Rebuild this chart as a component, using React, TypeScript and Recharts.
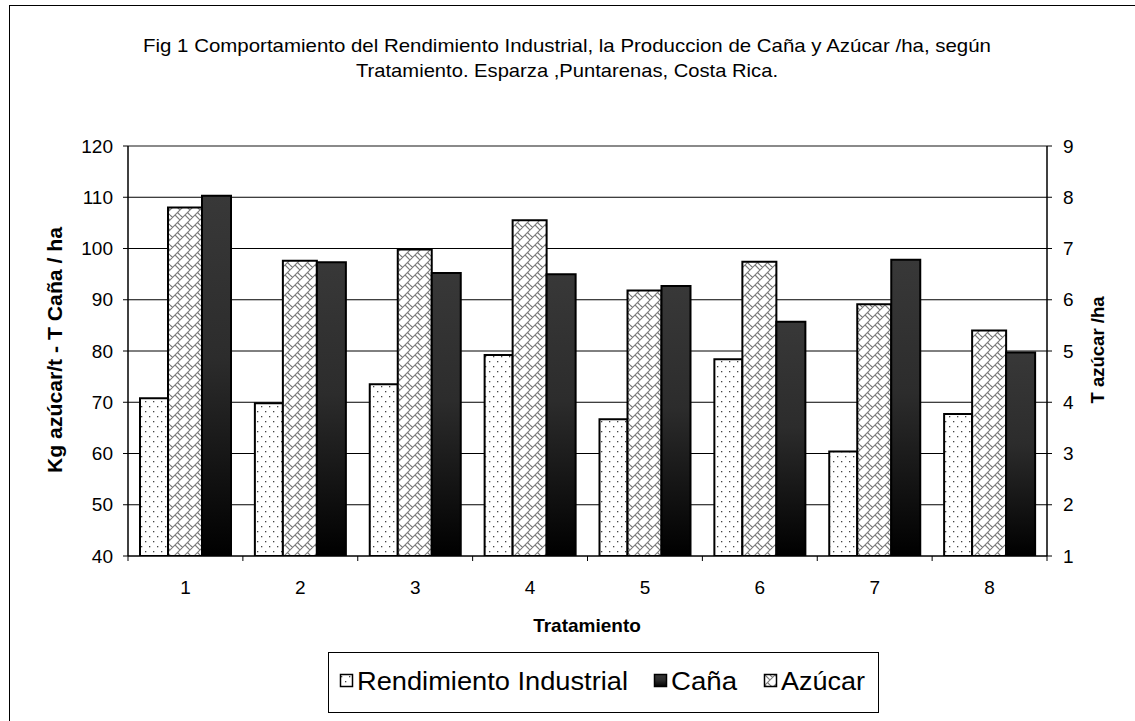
import React from 'react';
import { BarChart, Bar, XAxis, YAxis, CartesianGrid, ReferenceLine } from 'recharts';

const categories = ['1', '2', '3', '4', '5', '6', '7', '8'];
const rendimientoIndustrial = [70.8, 69.8, 73.5, 79.2, 66.7, 78.4, 60.4, 67.7];
const cana = [110.3, 97.3, 95.2, 95.0, 92.7, 85.7, 97.8, 79.7];
const azucar = [7.8, 6.76, 6.98, 7.55, 6.18, 6.74, 5.91, 5.4];
const leftTicks = [40, 50, 60, 70, 80, 90, 100, 110, 120];
const rightTicks = [1, 2, 3, 4, 5, 6, 7, 8, 9];
const seriesNames = { rend: 'Rendimiento Industrial', cana: 'Caña', azucar: 'Azúcar' };
const titleLines = [
  'Fig 1 Comportamiento del Rendimiento Industrial, la Produccion de Caña y Azúcar /ha, según',
  'Tratamiento. Esparza ,Puntarenas, Costa Rica.',
];
const leftAxisTitle = 'Kg azúcar/t - T Caña / ha';
const rightAxisTitle = 'T azúcar /ha';
const xAxisTitle = 'Tratamiento';

const W = 1135;
const H = 721;
const LEFT_AXIS_W = 128;
const RIGHT_AXIS_W = 88;
const PLOT_W = W - LEFT_AXIS_W - RIGHT_AXIS_W;
const FONT = '"Liberation Sans", Arial, sans-serif';

const data = categories.map((t, i) => ({
  t,
  rend: rendimientoIndustrial[i],
  cana: cana[i],
  azucar: azucar[i],
}));

function XTick(props: any) {
  const { x, y, payload, index } = props;
  const bw = PLOT_W / categories.length;
  const last = index === categories.length - 1;
  return (
    <g>
      <line x1={x - bw / 2} x2={x - bw / 2} y1={y - 5} y2={y} stroke="#000" />
      {last && <line x1={x + bw / 2} x2={x + bw / 2} y1={y - 5} y2={y} stroke="#000" />}
      <text x={x} y={y + 33} textAnchor="middle" fontFamily={FONT} fontSize={19} fill="#000">
        {payload.value}
      </text>
    </g>
  );
}

const tickStyle = { fontFamily: FONT, fontSize: 19, fill: '#000' };

function LegendItem({ x, fill, label, len }: { x: number; fill: string; label: string; len: number }) {
  return (
    <g>
      <rect x={x + 0.5} y={674.5} width={12} height={12} fill={fill} stroke="#000" strokeWidth={1.5} />
      <text
        x={x + 17}
        y={690}
        fontFamily={FONT}
        fontSize={26}
        fill="#000"
        textLength={len}
        lengthAdjust="spacingAndGlyphs"
      >
        {label}
      </text>
    </g>
  );
}

export default function App() {
  return (
    <div style={{ position: 'absolute', left: 0, top: 0, width: W, height: H, background: '#fff', overflow: 'hidden' }}>
      <svg width={0} height={0} style={{ position: 'absolute' }}>
        <defs>
          <pattern id="dotsPat" width="8" height="10" patternUnits="userSpaceOnUse">
            <rect width="8" height="10" fill="#fff" />
            <rect x="1" y="1" width="1.3" height="1.3" fill="#444" />
            <rect x="5" y="6" width="1.3" height="1.3" fill="#444" />
          </pattern>
          <pattern id="brickPat" width="10" height="10" patternUnits="userSpaceOnUse">
            <rect width="10" height="10" fill="#fff" />
            <path
              d="M0,10 L10,0 M-1,1 L1,-1 M9,11 L11,9 M5,5 L10,10 M0,5 L2.5,7.5 M7.5,2.5 L10,5"
              stroke="#7a7a7a"
              strokeWidth="1.1"
              fill="none"
            />
          </pattern>
          <linearGradient id="canaGrad" x1="0" y1="0" x2="0" y2="1">
            <stop offset="0%" stopColor="#383838" />
            <stop offset="45%" stopColor="#2c2c2c" />
            <stop offset="100%" stopColor="#000" />
          </linearGradient>
        </defs>
      </svg>

      <BarChart
        width={W}
        height={H}
        data={data}
        margin={{ top: 146, right: 0, bottom: 135, left: 0 }}
        barGap={0}
      >
        <CartesianGrid yAxisId="left" vertical={false} stroke="#000" strokeWidth={1} />
        <XAxis
          dataKey="t"
          height={30}
          tickSize={5}
          tickMargin={0}
          tickLine={false}
          axisLine={{ stroke: '#000', strokeWidth: 1 }}
          tick={<XTick />}
          interval={0}
        />
        <YAxis
          yAxisId="left"
          orientation="left"
          width={LEFT_AXIS_W}
          domain={[40, 120]}
          ticks={leftTicks}
          interval={0}
          tickSize={5}
          tickMargin={10}
          axisLine={{ stroke: '#000', strokeWidth: 1.5 }}
          tickLine={{ stroke: '#000' }}
          tick={tickStyle}
          allowDataOverflow
        />
        <YAxis
          yAxisId="right"
          orientation="right"
          width={RIGHT_AXIS_W}
          domain={[1, 9]}
          ticks={rightTicks}
          interval={0}
          tickSize={5}
          tickMargin={11}
          axisLine={{ stroke: '#000', strokeWidth: 1.5 }}
          tickLine={{ stroke: '#000' }}
          tick={{ ...tickStyle, textAnchor: 'start' }}
          allowDataOverflow
        />
        <ReferenceLine yAxisId="left" y={120} stroke="#8a8a8a" strokeWidth={2} />
        <Bar
          yAxisId="left"
          dataKey="rend"
          name={seriesNames.rend}
          fill="url(#dotsPat)"
          stroke="#000"
          strokeWidth={2}
          barSize={28}
          isAnimationActive={false}
        />
        <Bar
          yAxisId="right"
          dataKey="azucar"
          name={seriesNames.azucar}
          fill="url(#brickPat)"
          stroke="#000"
          strokeWidth={2}
          barSize={34}
          isAnimationActive={false}
        />
        <Bar
          yAxisId="left"
          dataKey="cana"
          name={seriesNames.cana}
          fill="url(#canaGrad)"
          stroke="#000"
          strokeWidth={2}
          barSize={29}
          isAnimationActive={false}
        />
      </BarChart>

      <svg
        width={W}
        height={H}
        style={{ position: 'absolute', left: 0, top: 0, pointerEvents: 'none' }}
      >
        <rect x={9.5} y={5.5} width={1140} height={800} fill="none" stroke="#000" strokeWidth={1} />
        <text x={567} y={52} textAnchor="middle" fontFamily={FONT} fontSize={19} fill="#000" textLength={848} lengthAdjust="spacingAndGlyphs">
          {titleLines[0]}
        </text>
        <text x={567} y={77} textAnchor="middle" fontFamily={FONT} fontSize={19} fill="#000" textLength={422} lengthAdjust="spacingAndGlyphs">
          {titleLines[1]}
        </text>
        <text
          x={55}
          y={350}
          transform="rotate(-90 55 350)"
          textAnchor="middle"
          dominantBaseline="central"
          fontFamily={FONT}
          fontWeight="bold"
          fontSize={20}
          fill="#000"
          textLength={246}
          lengthAdjust="spacingAndGlyphs"
        >
          {leftAxisTitle}
        </text>
        <text
          x={1097}
          y={350}
          transform="rotate(-90 1097 350)"
          textAnchor="middle"
          dominantBaseline="central"
          fontFamily={FONT}
          fontWeight="bold"
          fontSize={19}
          fill="#000"
          textLength={107}
          lengthAdjust="spacingAndGlyphs"
        >
          {rightAxisTitle}
        </text>
        <text x={587} y={632} textAnchor="middle" fontFamily={FONT} fontWeight="bold" fontSize={19} fill="#000">
          {xAxisTitle}
        </text>
        <rect x={328.5} y={652.5} width={550} height={60} fill="#fff" stroke="#000" strokeWidth={1} />
        <LegendItem x={340} fill="url(#dotsPat)" label={seriesNames.rend} len={271} />
        <LegendItem x={654} fill="url(#canaGrad)" label={seriesNames.cana} len={66} />
        <LegendItem x={764} fill="url(#brickPat)" label={seriesNames.azucar} len={84} />
      </svg>
    </div>
  );
}
